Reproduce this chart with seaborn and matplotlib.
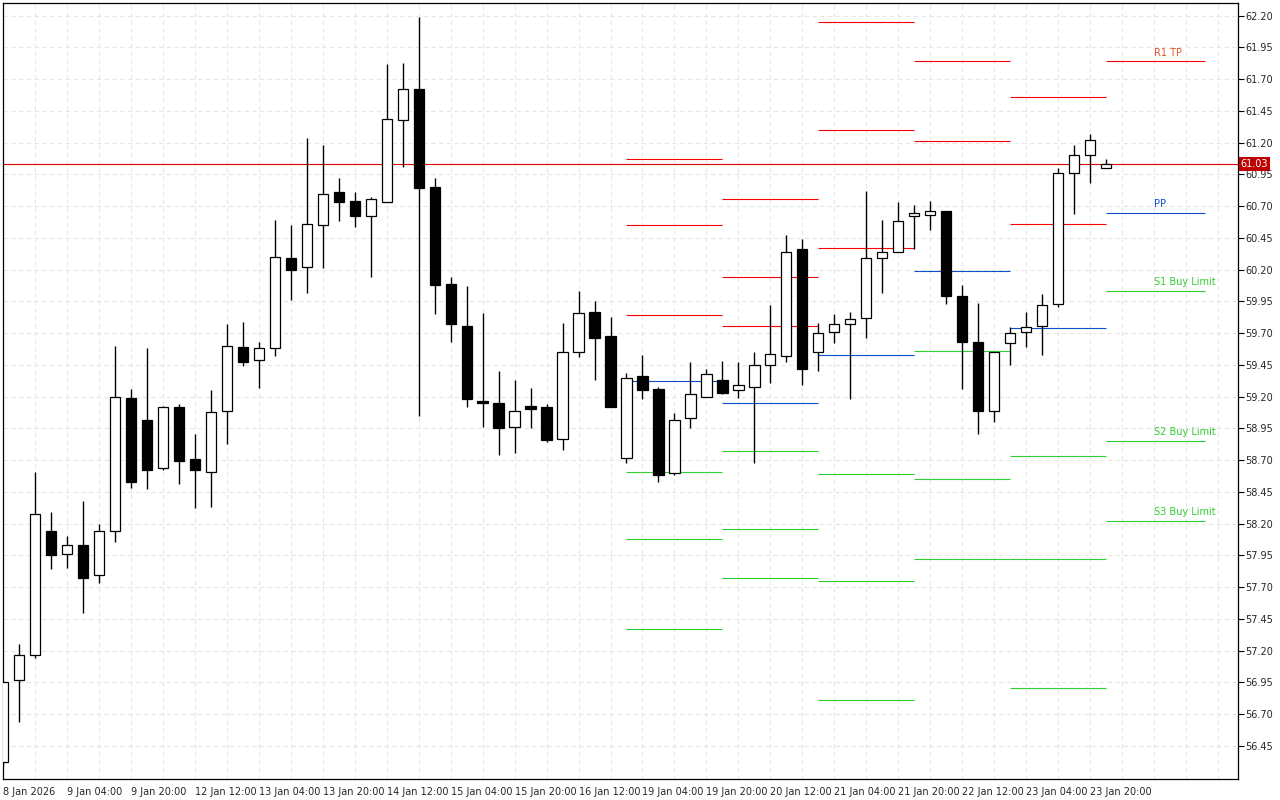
import matplotlib
matplotlib.use("Agg")
import matplotlib.pyplot as plt
import seaborn as sns
import numpy as np

sns.set_style("white")
plt.rcParams['font.family'] = ['DejaVu Sans']

opens = [56.32,56.97,57.17,58.14,57.96,58.03,57.80,58.14,59.19,59.02,
         58.64,59.12,58.71,58.61,59.09,59.59,59.49,59.58,60.29,60.22,
         60.55,60.81,60.74,60.62,60.73,61.38,61.62,60.85,60.09,59.76,
         59.17,59.15,58.96,59.13,59.12,58.87,59.55,59.87,59.68,58.72,
         59.36,59.26,58.60,59.03,59.20,59.33,59.25,59.28,59.45,59.52,
         60.36,59.55,59.71,59.77,59.82,60.29,60.34,60.62,60.63,60.66,
         59.99,59.63,59.09,59.62,59.71,59.76,59.93,60.96,61.10,61.00]
highs = [56.97,57.25,58.61,58.29,58.10,58.38,58.20,59.60,59.26,59.58,
         59.13,59.14,58.91,59.25,59.77,59.79,59.63,60.59,60.55,61.24,
         61.18,60.92,60.81,60.77,61.82,61.83,62.19,60.92,60.14,60.07,
         59.86,59.40,59.33,59.27,59.14,59.78,60.03,59.95,59.83,59.39,
         59.53,59.28,59.07,59.47,59.42,59.48,59.47,59.55,59.92,60.47,
         60.44,59.78,59.85,59.87,60.82,60.59,60.73,60.71,60.74,60.66,
         60.08,59.94,59.55,59.75,59.87,60.01,61.00,61.18,61.27,61.07]
lows = [56.29,56.64,57.14,57.84,57.85,57.50,57.73,58.06,58.48,58.47,
        58.62,58.51,58.32,58.33,58.83,59.44,59.27,59.52,59.96,60.02,
        60.21,60.58,60.54,60.14,60.73,61.01,59.05,59.85,59.63,59.12,
        58.96,58.74,58.76,58.95,58.84,58.78,59.51,59.33,59.12,58.68,
        59.18,58.53,58.58,58.95,59.20,59.22,59.19,58.68,59.31,59.47,
        59.29,59.40,59.62,59.18,59.66,60.02,60.34,60.36,60.51,59.93,
        59.26,58.91,59.00,59.45,59.59,59.53,59.91,60.64,60.88,61.00]
closes = [56.95,57.17,58.28,57.95,58.03,57.77,58.14,59.20,58.53,58.62,
          59.12,58.69,58.62,59.08,59.60,59.47,59.58,60.30,60.20,60.56,
          60.80,60.73,60.62,60.76,61.39,61.62,60.84,60.08,59.77,59.18,
          59.15,58.95,59.09,59.10,58.86,59.55,59.86,59.66,59.12,59.35,
          59.25,58.58,59.02,59.22,59.38,59.23,59.29,59.45,59.54,60.34,
          59.42,59.70,59.77,59.81,60.29,60.34,60.58,60.65,60.66,59.99,
          59.63,59.09,59.55,59.70,59.75,59.92,60.96,61.10,61.22,61.03]

x_labels = ["8 Jan 2026", "9 Jan 04:00", "9 Jan 20:00", "12 Jan 12:00", "13 Jan 04:00",
            "13 Jan 20:00", "14 Jan 12:00", "15 Jan 04:00", "15 Jan 20:00", "16 Jan 12:00",
            "19 Jan 04:00", "19 Jan 20:00", "20 Jan 12:00", "21 Jan 04:00", "21 Jan 20:00",
            "22 Jan 12:00", "23 Jan 04:00", "23 Jan 20:00"]

seg_start = [39, 45, 51, 57, 63, 69]
seg_end = [45, 51, 57, 63, 69, 75.2]
R3 = [61.07, 60.76, 62.15, None, None, None]
R2 = [60.55, 60.14, 61.30, 61.84, 61.56, None]
R1 = [59.84, 59.76, 60.37, 61.21, 60.56, 61.84]
PP = [59.32, 59.15, 59.53, 60.19, 59.74, 60.65]
S1 = [58.61, 58.77, 58.59, 59.56, 58.73, 60.03]
S2 = [58.08, 58.16, 57.75, 58.55, 57.92, 58.85]
S3 = [57.37, 57.77, 56.81, 57.92, 56.91, 58.22]
last_price = 61.03

RED, BLUE, GREEN = "#ff0000", "#0a4fd0", "#32cd32"

fig = plt.figure(figsize=(12.8, 8), dpi=100)
ax = fig.add_axes([3/1280, 21/800, 1235/1280, 776/800])

idx = np.arange(len(opens))
o = np.array(opens); c = np.array(closes); h = np.array(highs); l = np.array(lows)

for gy in np.arange(56.45, 62.21, 0.25):
    ax.axhline(gy, color="#e6e6e6", lw=0.8, ls=(0, (4, 3)), zorder=0)
for gx in np.arange(2, 78, 2):
    ax.axvline(gx, color="#e6e6e6", lw=0.8, ls=(0, (4, 3)), zorder=0)

for k in range(len(seg_start)):
    for arr, col in ((R3, RED), (R2, RED), (R1, RED), (PP, BLUE), (S1, GREEN), (S2, GREEN), (S3, GREEN)):
        if arr[k] is not None:
            ax.hlines(arr[k], seg_start[k], seg_end[k], color=col, lw=0.8, zorder=1)

ax.axhline(last_price, color="#e00000", lw=0.8, zorder=1)

ax.vlines(idx, l, h, color="black", lw=1.0, zorder=2)
up = c >= o
bottoms = np.minimum(o, c)
heights = np.maximum(np.abs(c - o), 0.012)
ax.bar(idx, heights, bottom=bottoms, width=0.64,
       color=np.where(up, "white", "black"), edgecolor="black", lw=0.9, zorder=3)

lab_x = 72
fs = 7
ax.text(lab_x, R1[5] + 0.03, "R1 TP", color="#e8532a", fontsize=fs, va="bottom")
ax.text(lab_x, PP[5] + 0.03, "PP", color=BLUE, fontsize=fs, va="bottom")
ax.text(lab_x, S1[5] + 0.03, "S1 Buy Limit", color=GREEN, fontsize=fs, va="bottom")
ax.text(lab_x, S2[5] + 0.03, "S2 Buy Limit", color=GREEN, fontsize=fs, va="bottom")
ax.text(lab_x, S3[5] + 0.03, "S3 Buy Limit", color=GREEN, fontsize=fs, va="bottom")

ax.set_xlim(0.0625, 77.25)
ax.set_ylim(56.19, 62.30)

ax.yaxis.tick_right()
yt = np.round(np.arange(56.45, 62.21, 0.25), 2)
ax.set_yticks(yt)
ax.set_yticklabels([f"{v:.2f}" for v in yt], fontsize=fs)
ax.set_xticks(np.arange(0, 4 * len(x_labels), 4))
ax.set_xticklabels(x_labels, fontsize=fs, ha="left")
ax.tick_params(axis="both", which="both", length=4, width=0.8, color="black", direction="out", pad=1.5)
for s in ax.spines.values():
    s.set_color("black"); s.set_linewidth(0.9)

ax.text(1.002, last_price, f"{last_price:.2f}", transform=ax.get_yaxis_transform(),
        color="white", fontsize=fs, va="center", ha="left",
        bbox=dict(boxstyle="square,pad=0.2", fc="#c00000", ec="none"), zorder=5)

fig.savefig("out.png", dpi=100)
